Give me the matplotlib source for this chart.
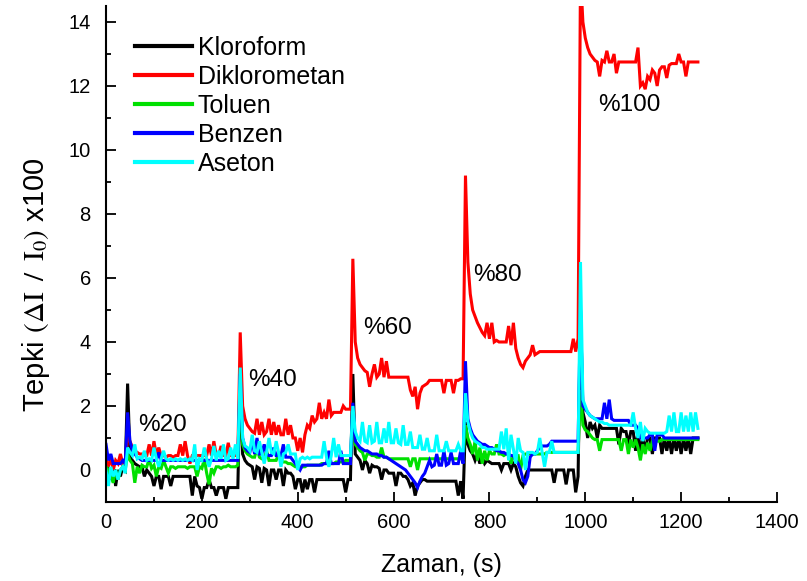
import numpy as np
import matplotlib
matplotlib.use("Agg")
import matplotlib.pyplot as plt
from matplotlib.ticker import MultipleLocator

plt.rcParams['font.family'] = ['Liberation Sans', 'DejaVu Sans']
plt.rcParams['mathtext.fontset'] = 'stix'

# start time (s) of each exposure segment; samples every 5 s inside a segment
segment_start_s = [0, 45, 280, 515, 750, 990]
sample_step_s = 5

series_names = ["Kloroform", "Diklorometan", "Toluen", "Benzen", "Aseton"]
series_colors = ["#000000", "#FF0000", "#00E000", "#0000FF", "#00FFFF"]

kloroform = [
    [0.3, 0.0, -0.3, 0.1, -0.5, 0.0, -0.2, 0.1, 0.0],
    [2.7, 0.4, 0.3, 0.2, 0.15, 0.1, 0.1, -0.2, 0.0, -0.1,
     -0.2, -0.5, -0.2, -0.2, -0.6, -0.2, -0.2, -0.2, -0.5, -0.2,
     -0.2, -0.2, -0.2, -0.2, -0.2, -0.2, -0.2, -0.8, -0.2, -0.5,
     -0.55, -0.9, -0.55, -0.55, -0.3, -0.55, -0.55, -0.8, -0.55, -0.55,
     -0.55, -0.9, -0.55, -0.55, -0.55, -0.55, -0.55],
    [3.0, 0.5, 0.3, 0.2, 0.15, 0.1, -0.3, 0.1, 0.05, -0.4,
     0.05, 0.0, -0.5, 0.0, 0.0, -0.3, 0.0, 0.0, -0.5, 0.0,
     -0.1, -0.1, -0.2, -0.6, -0.3, -0.3, -0.7, -0.3, -0.6, -0.3,
     -0.3, -0.7, -0.3, -0.3, -0.3, -0.3, -0.3, -0.3, -0.3, -0.3,
     -0.3, -0.3, -0.3, -0.3, -0.7, -0.3, -0.3],
    [3.0, 0.5, 0.4, 0.3, 0.0, 0.3, 0.2, -0.1, 0.15, 0.1,
     0.1, 0.05, -0.3, 0.0, 0.0, -0.1, -0.1, -0.1, -0.5, -0.1,
     -0.1, -0.2, -0.2, -0.3, -0.5, -0.4, -0.8, -0.5, -0.4, -0.3,
     -0.3, -0.35, -0.35, -0.35, -0.35, -0.35, -0.35, -0.35, -0.35, -0.35,
     -0.35, -0.35, -0.35, -0.35, -0.8, -0.35, -0.9],
    [1.5, 0.8, 0.6, 0.5, 0.3, 0.5, 0.2, 0.4, 0.2, 0.3,
     0.25, 0.2, 0.2, 0.2, 0.2, 0.0, 0.2, 0.2, 0.2, 0.0,
     0.2, 0.1, -0.2, -0.4, -0.5, -0.2, 0.0, 0.0, 0.0, 0.0,
     0.0, 0.0, 0.0, 0.0, 0.0, 0.0, 0.0, -0.4, 0.0, 0.0,
     0.0, 0.0, -0.45, 0.0, 0.0, 0.0, -0.7, -0.2],
    [5.0, 1.8, 1.5, 1.0, 1.5, 1.3, 1.4, 1.0, 1.4, 1.3,
     1.3, 1.3, 1.3, 1.3, 1.3, 1.3, 0.8, 1.3, 1.2, 1.2,
     0.8, 1.2, 1.2, 0.6, 1.2, 0.5, 1.0, 0.6, 1.0, 1.0,
     0.5, 1.0, 1.0, 1.0, 0.5, 1.0, 0.6, 1.0, 0.5, 1.0,
     0.6, 1.0, 0.5, 1.0, 0.6, 1.0, 0.5, 1.0, 1.0, 1.0],
]

diklorometan = [
    [0.3, 0.1, 0.4, 0.0, 0.3, 0.2, 0.5, 0.2, 0.3],
    [1.0, 0.9, 0.7, 0.6, 0.55, 0.5, 0.5, 0.45, 0.45, 0.8,
     0.45, 0.9, 0.45, 0.7, 0.45, 0.45, 0.4, 0.45, 0.45, 0.4,
     0.45, 0.45, 0.8, 0.45, 0.9, 0.45, 0.2, 0.45, 0.45, 0.45,
     0.45, 0.45, 0.45, 0.45, 0.8, 0.45, 0.9, 0.45, 0.45, 0.75,
     0.45, 0.45, 0.85, 0.45, 0.45, 0.45, 0.45],
    [4.3, 2.0, 1.6, 1.4, 1.3, 1.2, 1.15, 1.6, 1.1, 1.5,
     1.1, 1.2, 1.6, 1.1, 1.5, 1.1, 1.4, 1.1, 1.1, 1.6,
     1.1, 1.4, 1.0, 1.0, 0.6, 1.0, 0.55, 1.1, 1.4, 1.3,
     1.7, 1.5, 1.6, 2.1, 1.6, 1.8, 1.6, 2.2, 1.7, 1.8,
     1.8, 1.8, 1.8, 2.0, 1.9, 1.9, 1.9],
    [6.6, 4.0, 3.5, 3.3, 3.2, 3.1, 3.05, 2.6, 3.0, 3.3,
     2.9, 3.0, 3.5, 2.9, 3.4, 2.9, 2.9, 2.9, 2.9, 2.9,
     2.9, 2.9, 2.9, 2.9, 2.5, 2.3, 2.6, 1.9, 2.4, 2.6,
     2.65, 2.7, 2.8, 2.8, 2.8, 2.8, 2.8, 2.8, 2.4, 2.8,
     2.8, 2.8, 2.4, 2.8, 2.8, 2.85, 2.85],
    [9.2, 6.5, 5.5, 5.0, 4.8, 4.6, 4.45, 4.3, 4.2, 4.6,
     4.1, 4.6, 4.0, 4.05, 4.0, 4.0, 4.0, 4.0, 4.5, 3.9,
     4.6, 3.8, 3.5, 3.3, 3.2, 3.4, 3.5, 3.6, 3.9, 3.6,
     3.65, 3.7, 3.7, 3.7, 3.7, 3.7, 3.7, 3.7, 3.7, 3.7,
     3.7, 3.7, 3.7, 3.7, 3.7, 4.1, 3.7, 4.1],
    [15.5, 14.0, 13.5, 13.2, 13.0, 12.9, 12.8, 12.75, 12.3, 12.8,
     12.75, 13.1, 12.75, 12.75, 13.0, 12.4, 12.75, 12.75, 12.75, 12.75,
     12.75, 12.75, 12.75, 12.75, 13.2, 12.0, 12.1, 11.9, 12.3, 12.2,
     12.5, 12.4, 12.0, 12.5, 12.6, 12.6, 12.25, 12.65, 12.7, 12.7,
     12.7, 13.0, 12.75, 12.75, 12.3, 12.75, 12.75, 12.75, 12.75, 12.75],
]

toluen = [
    [0.1, 0.0, -0.2, -0.4, 0.0, -0.3, 0.0, 0.1, 0.0],
    [0.5, 0.3, 0.2, -0.4, 0.1, -0.1, 0.15, 0.1, 0.1, 0.35,
     0.05, 0.15, -0.2, 0.1, 0.05, 0.3, 0.1, -0.1, 0.1, 0.1,
     0.05, 0.1, 0.1, 0.1, 0.1, 0.05, 0.1, 0.1, 0.1, -0.2,
     0.1, 0.05, 0.35, -0.1, -0.45, 0.05, -0.1, 0.1, 0.1, 0.05,
     0.1, 0.1, 0.15, 0.1, 0.1, 0.1, 0.15],
    [2.5, 0.8, 0.6, 0.5, 0.45, 0.4, 0.4, 0.7, 0.4, 0.35,
     0.35, 0.6, 0.3, 0.3, 0.3, 0.3, 0.5, 0.3, 0.25, 0.25,
     0.2, 0.2, 0.15, 0.1, 0.1, 0.1, 0.1, 0.1, 0.15, 0.15,
     0.15, 0.15, 0.15, 0.15, 0.2, 0.2, 0.2, 0.2, 0.2, 0.2,
     0.25, 0.25, 0.25, 0.25, 0.3, 0.3, 0.3],
    [1.5, 0.8, 0.7, 0.6, 0.55, 0.3, 0.5, 0.5, 0.45, 0.45,
     0.4, 0.4, 0.7, 0.4, 0.4, 0.35, 0.35, 0.35, 0.35, 0.35,
     0.35, 0.35, 0.35, 0.35, 0.1, 0.35, 0.35, 0.0, 0.35, 0.35,
     0.35, 0.35, 0.35, 0.35, 0.35, 0.35, 0.35, 0.35, 0.35, 0.35,
     0.35, 0.35, 0.35, 0.35, 0.35, 0.35, 0.35],
    [1.4, 1.0, 0.8, 0.5, 0.9, 0.3, 0.7, 0.2, 0.6, 0.3,
     0.6, 0.5, 0.5, 0.8, 0.5, 0.5, 0.45, 0.5, 0.5, 0.2,
     0.45, 0.45, 0.45, 0.0, 0.45, 0.5, 0.5, 0.5, 0.5, 0.5,
     0.5, 0.5, 0.5, 0.5, 0.55, 0.55, 0.55, 0.55, 0.55, 0.55,
     0.55, 0.55, 0.55, 0.55, 0.55, 0.55, 0.55, 0.55],
    [2.5, 1.4, 1.25, 1.2, 1.1, 1.0, 0.95, 0.95, 0.6, 0.95,
     0.95, 0.95, 0.95, 0.95, 0.95, 0.95, 0.95, 0.6, 0.95, 0.95,
     0.5, 0.95, 0.7, 0.95, 0.7, 0.3, 0.8, 0.5, 0.85, 0.6,
     0.9, 0.9, 0.9, 0.9, 0.95, 0.95, 0.95, 0.95, 0.95, 0.95,
     0.95, 0.95, 0.95, 0.95, 0.95, 0.95, 0.95, 0.95, 0.95, 0.95],
]

benzen = [
    [0.8, 0.3, 0.5, 0.2, 0.2, 0.2, 0.2, 0.3, 0.2],
    [1.8, 0.9, 0.6, 0.5, 0.4, 0.35, 0.3, 0.3, 0.3, 0.3,
     0.3, 0.3, 0.3, 0.55, 0.3, 0.3, 0.3, 0.3, 0.3, 0.3,
     0.3, 0.3, 0.3, 0.3, 0.3, 0.3, 0.3, 0.3, 0.3, 0.3,
     0.3, 0.3, 0.3, 0.3, 0.3, 0.3, 0.3, 0.3, 0.3, 0.3,
     0.3, 0.3, 0.3, 0.3, 0.3, 0.3, 0.3],
    [3.0, 1.0, 0.7, 0.6, 0.55, 0.9, 0.5, 1.0, 0.5, 0.5,
     0.8, 0.5, 0.45, 0.45, 0.7, 0.45, 0.45, 0.45, 0.8, 0.4,
     0.4, 0.4, 0.3, 0.2, 0.1, 0.0, 0.15, 0.15, 0.15, 0.15,
     0.15, 0.15, 0.15, 0.15, 0.15, 0.2, 0.2, 0.6, 0.2, 0.2,
     0.2, 0.2, 0.6, 0.2, 0.2, 0.2, 0.2],
    [2.1, 0.9, 0.8, 0.7, 0.65, 0.6, 0.6, 0.55, 0.5, 0.5,
     0.5, 0.45, 0.45, 0.4, 0.4, 0.35, 0.3, 0.25, 0.2, 0.15,
     0.1, 0.05, 0.0, -0.1, -0.2, -0.3, -0.4, -0.55, -0.35, -0.2,
     -0.1, 0.1, 0.3, 0.1, 0.15, 0.5, 0.15, 0.15, 0.6, 0.15,
     0.2, 0.55, 0.2, 0.2, 0.2, 0.6, 0.2],
    [3.4, 1.6, 1.3, 1.1, 1.0, 0.9, 0.85, 0.8, 0.8, 0.75,
     0.7, 0.7, 0.65, 0.6, 0.6, 0.55, 0.55, 0.5, 0.5, 0.45,
     0.45, 0.3, 0.2, 0.0, -0.3, -0.4, -0.2, 0.4, 0.5, 0.5,
     0.6, 0.7, 0.75, 0.75, 0.75, 0.8, 0.9, 0.9, 0.9, 0.9,
     0.9, 0.9, 0.9, 0.9, 0.9, 0.9, 0.9, 0.9],
    [5.0, 2.0, 1.9, 1.8, 1.7, 1.65, 1.6, 1.6, 1.6, 1.6,
     2.1, 1.6, 2.2, 1.6, 1.55, 1.55, 1.55, 1.55, 1.55, 1.55,
     1.55, 1.4, 1.4, 1.4, 1.3, 1.0, 1.0, 1.0, 1.0, 1.1,
     1.1, 0.6, 1.1, 1.1, 1.1, 1.0, 1.0, 1.0, 1.0, 1.0,
     1.0, 1.0, 1.0, 1.0, 1.0, 1.0, 1.0, 1.0, 1.0, 1.0],
]

aseton = [
    [0.0, -0.5, 0.1, -0.2, 0.0, -0.3, 0.0, 0.1, -0.1],
    [0.7, 0.55, 0.45, 0.8, 0.35, 0.4, 0.35, 0.6, 0.3, 0.35,
     0.3, 0.7, 0.35, 0.1, 0.35, 0.6, 0.35, 0.3, 0.35, 0.3,
     0.35, 0.3, 0.35, 0.3, 0.35, 0.3, 0.35, 0.3, 0.8, 0.0,
     0.35, 0.3, 0.7, 0.35, 0.1, 0.35, 0.75, 0.3, 0.6, 0.35,
     0.8, 0.3, 0.35, 0.7, 0.35, 0.8, 0.35],
    [3.2, 1.0, 0.75, 0.7, 0.6, 1.1, 0.6, 0.55, 0.9, 0.55,
     0.2, 0.55, 1.0, 0.55, 0.5, 0.9, 0.55, 0.1, 0.5, 0.55,
     0.8, 0.5, 0.5, 0.5, 0.0, 0.35, 0.4, 0.35, 0.4, 0.35,
     0.4, 0.4, 0.4, 0.4, 0.4, 0.9, 0.4, 0.1, 0.45, 1.0,
     0.4, 0.8, 0.45, 0.45, 0.45, 0.45, 0.45],
    [2.0, 1.2, 1.0, 0.9, 1.5, 0.9, 0.85, 1.4, 0.85, 0.9,
     1.5, 0.85, 0.85, 1.3, 0.85, 1.5, 0.85, 0.85, 1.3, 0.85,
     0.8, 1.4, 0.8, 0.8, 1.2, 0.7, 0.7, 0.7, 1.1, 0.65,
     0.65, 1.0, 0.6, 0.6, 0.6, 1.1, 0.6, 0.6, 0.6, 0.9,
     0.6, 0.6, 0.6, 0.6, 0.8, 0.6, 0.6],
    [2.4, 1.5, 1.2, 1.0, 0.9, 0.85, 0.8, 0.7, 0.7, 0.65,
     0.65, 0.65, 0.65, 0.65, 0.65, 1.2, 0.65, 1.3, 0.3, 1.1,
     0.65, 0.2, 1.0, 0.6, 0.55, 0.0, 0.55, 0.55, 0.55, 0.5,
     0.55, 1.0, 0.55, 0.1, 0.55, 0.55, 0.9, 0.55, 0.55, 0.55,
     0.55, 0.55, 0.55, 0.55, 0.55, 0.55, 0.55, 0.55],
    [6.5, 2.2, 2.0, 1.8, 1.7, 1.65, 1.6, 1.55, 1.5, 1.5,
     1.45, 1.45, 1.4, 1.4, 1.4, 1.4, 1.4, 1.4, 1.4, 1.4,
     1.4, 1.4, 1.8, 1.3, 1.0, 1.5, 0.9, 1.3, 1.2, 1.15,
     1.15, 1.15, 1.15, 1.15, 1.15, 1.15, 1.2, 1.7, 1.2, 1.8,
     1.2, 1.2, 1.8, 1.2, 1.7, 1.2, 1.8, 1.2, 1.8, 1.3],
]

annotation_labels = ["%20", "%40", "%60", "%80", "%100"]
annotation_t = [67, 296, 536, 766, 1026]
annotation_v = [1.4, 2.8, 4.44, 6.1, 11.4]

all_series = [kloroform, diklorometan, toluen, benzen, aseton]

fig = plt.figure(figsize=(8.07, 5.81), dpi=100)
ax = fig.add_axes([0.1314, 0.1360, 0.8314, 0.8537])

for name, color, segs in zip(series_names, series_colors, all_series):
    t_all, v_all = [], []
    for start, seg in zip(segment_start_s, segs):
        for k, v in enumerate(seg):
            t_all.append(start + sample_step_s * k)
            v_all.append(v)
    ax.plot(t_all, v_all, color=color, lw=2.2, label=name, solid_joinstyle='miter')

for lab, t, v in zip(annotation_labels, annotation_t, annotation_v):
    ax.text(t, v, lab, fontsize=17.5, ha='left', va='center')

ax.set_xlim(0, 1400)
ax.set_ylim(-1, 14.5)
ax.xaxis.set_major_locator(MultipleLocator(200))
ax.xaxis.set_minor_locator(MultipleLocator(100))
ax.yaxis.set_major_locator(MultipleLocator(2))
ax.yaxis.set_minor_locator(MultipleLocator(1))
ax.tick_params(which='major', direction='in', length=7, width=1.3, labelsize=14.5)
ax.tick_params(axis='y', which='major', pad=11)
ax.tick_params(axis='x', which='major', pad=8)
ax.tick_params(which='minor', direction='in', length=3.5, width=1.3)
for s in ['top', 'right']:
    ax.spines[s].set_visible(False)
for s in ['left', 'bottom']:
    ax.spines[s].set_linewidth(1.5)

ax.set_xlabel("Zaman, (s)", fontsize=18, labelpad=15)
ax.set_ylabel(r"Tepki $\left(\Delta\mathrm{I}\;\;/\;\;\mathrm{I}_0\right)$ x100", fontsize=21, labelpad=12)
ax.yaxis.label.set_y(0.4375)

leg = ax.legend(loc='upper left', bbox_to_anchor=(0.043, 0.940), frameon=False,
                fontsize=18, handlelength=2.28, handletextpad=0.24, labelspacing=0.2,
                borderpad=0, borderaxespad=0)
for line in leg.get_lines():
    line.set_linewidth(3)

fig.savefig("out.png", dpi=100)
